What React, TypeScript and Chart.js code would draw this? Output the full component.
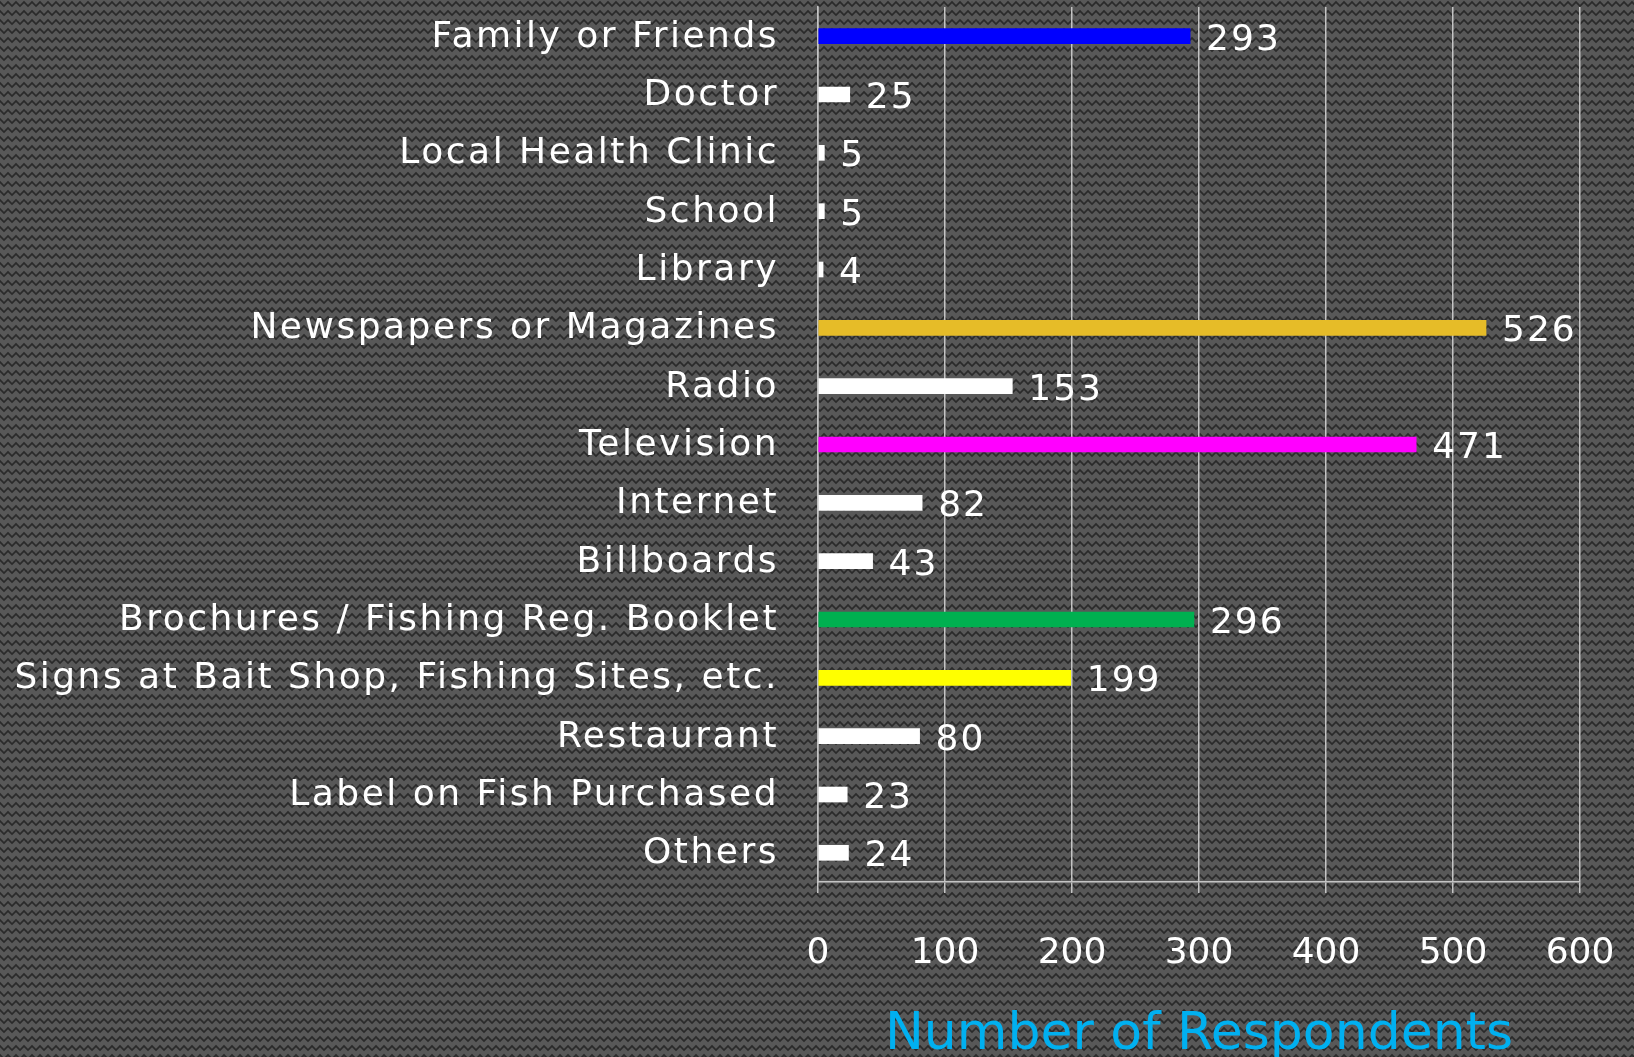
import React, { useEffect, useRef } from "react";
import { Chart, registerables } from "chart.js";

Chart.register(...registerables);

const categories = [
  "Family or Friends",
  "Doctor",
  "Local Health Clinic",
  "School",
  "Library",
  "Newspapers or Magazines",
  "Radio",
  "Television",
  "Internet",
  "Billboards",
  "Brochures / Fishing Reg. Booklet",
  "Signs at Bait Shop, Fishing Sites, etc.",
  "Restaurant",
  "Label on Fish Purchased",
  "Others",
];

const respondents = [293, 25, 5, 5, 4, 526, 153, 471, 82, 43, 296, 199, 80, 23, 24];

const barColors = [
  "#0000FF",
  "#FFFFFF",
  "#FFFFFF",
  "#FFFFFF",
  "#FFFFFF",
  "#E6BC28",
  "#FFFFFF",
  "#FF00FF",
  "#FFFFFF",
  "#FFFFFF",
  "#00B050",
  "#FFFF00",
  "#FFFFFF",
  "#FFFFFF",
  "#FFFFFF",
];

const xTicks = [0, 100, 200, 300, 400, 500, 600];
const axisTitle = "Number of Respondents";

const FONT = "'DejaVu Sans', sans-serif";

function makePattern(ctx: CanvasRenderingContext2D) {
  const tile = document.createElement("canvas");
  tile.width = 8;
  tile.height = 9;
  const t = tile.getContext("2d")!;
  t.fillStyle = "#585858";
  t.fillRect(0, 0, 8, 9);
  t.strokeStyle = "#2a2a2a";
  t.lineWidth = 1.6;
  t.beginPath();
  t.moveTo(-4, 6);
  t.lineTo(0, 2);
  t.lineTo(4, 6);
  t.lineTo(8, 2);
  t.lineTo(12, 6);
  t.stroke();
  return ctx.createPattern(tile, "repeat");
}

const backgroundPlugin = {
  id: "patternBg",
  beforeDraw(chart: any) {
    const ctx = chart.ctx as CanvasRenderingContext2D;
    const p = makePattern(ctx);
    ctx.save();
    ctx.fillStyle = p || "#4a4a4a";
    ctx.fillRect(0, 0, chart.width, chart.height);
    ctx.restore();
  },
};

const valueLabelPlugin = {
  id: "valueLabels",
  afterDatasetsDraw(chart: any) {
    const ctx = chart.ctx as CanvasRenderingContext2D;
    const meta = chart.getDatasetMeta(0);
    const data = chart.data.datasets[0].data as number[];
    ctx.save();
    ctx.fillStyle = "#FFFFFF";
    ctx.font = `36px ${FONT}`;
    (ctx as any).letterSpacing = "2px";
    ctx.textAlign = "left";
    ctx.textBaseline = "middle";
    meta.data.forEach((bar: any, i: number) => {
      ctx.fillText(String(data[i]), bar.x + 16, bar.y + 4);
    });
    ctx.restore();
  },
};

export default function App() {
  const ref = useRef<HTMLCanvasElement | null>(null);

  useEffect(() => {
    document.body.style.margin = "0";
    const canvas = ref.current!;
    const chart = new Chart(canvas, {
      type: "bar",
      data: {
        labels: categories,
        datasets: [
          {
            data: respondents,
            backgroundColor: barColors,
            borderWidth: 0,
            barThickness: 15,
          },
        ],
      },
      options: {
        indexAxis: "y",
        responsive: false,
        animation: false,
        maintainAspectRatio: false,
        layout: { padding: { top: 7, right: 54, left: 0, bottom: 0 } },
        plugins: {
          legend: { display: false },
          tooltip: { enabled: false },
          title: { display: false },
        },
        scales: {
          x: {
            type: "linear",
            min: xTicks[0],
            max: xTicks[xTicks.length - 1],
            afterBuildTicks(scale: any) {
              scale.ticks = xTicks.map((v) => ({ value: v }));
            },
            afterFit(scale: any) {
              scale.height = 175;
              scale.paddingLeft = 0;
              scale.paddingRight = 0;
            },
            grid: {
              color: "#c4c4c4",
              lineWidth: 1.5,
              drawTicks: true,
              tickLength: 11,
              tickColor: "#c4c4c4",
            },
            border: { display: true, color: "#c4c4c4", width: 1.5 },
            ticks: {
              color: "#FFFFFF",
              font: { family: FONT, size: 36 },
              padding: 39,
              maxRotation: 0,
            },
            title: {
              display: true,
              text: axisTitle,
              color: "#00B0F0",
              font: { family: FONT, size: 52, lineHeight: 1 },
              padding: { top: 0, bottom: -4 },
            },
          },
          y: {
            type: "category",
            afterFit(scale: any) {
              scale.width = 818;
              scale.paddingTop = 0;
              scale.paddingBottom = 0;
              if (!scale.__spaced) {
                scale.__spaced = true;
                const orig = scale.drawLabels;
                scale.drawLabels = function (area: any) {
                  const c = this.ctx as any;
                  c.save();
                  c.letterSpacing = "2.5px";
                  c.translate(0, 1);
                  orig.call(this, area);
                  c.restore();
                };
              }
            },
            grid: { display: false, drawTicks: false },
            border: { display: true, color: "#c4c4c4", width: 1.5 },
            ticks: {
              color: "#FFFFFF",
              font: { family: FONT, size: 36 },
              padding: 39,
              autoSkip: false,
            },
          },
        },
      },
      plugins: [backgroundPlugin, valueLabelPlugin],
    });
    return () => chart.destroy();
  }, []);

  return (
    <canvas
      ref={ref}
      width={1634}
      height={1057}
      style={{ display: "block", width: "1634px", height: "1057px" }}
    />
  );
}
